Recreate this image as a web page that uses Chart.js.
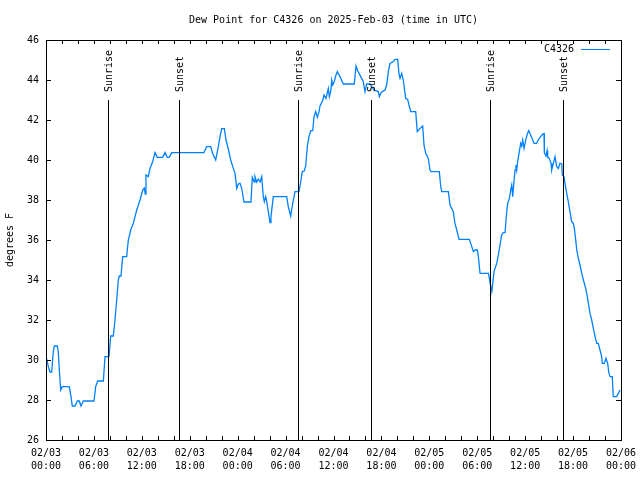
<!DOCTYPE html>
<html>
<head>
<meta charset="utf-8">
<script src="https://cdn.jsdelivr.net/npm/chart.js@4/dist/chart.umd.min.js"></script>
<style>
  html, body { margin: 0; padding: 0; background: #fff; }
  #wrap { width: 640px; height: 480px; }
</style>
</head>
<body>
<div id="wrap"><canvas id="dewChart"></canvas></div>
<script>
// hours since 02/03 00:00 UTC
const hours = [
  0.0, 0.29, 0.5, 0.71, 0.91, 1.04, 1.41, 1.54, 1.75, 1.84, 2.04, 2.92, 3.13, 3.29, 3.63, 3.92,
  4.17, 4.38, 4.67, 6.01, 6.22, 6.47, 7.18, 7.39, 7.89, 8.10, 8.43, 8.64, 8.85, 9.05, 9.18, 9.39,
  9.60, 10.1, 10.31, 10.61, 10.93, 11.36, 11.77, 12.11, 12.31, 12.43, 12.52, 12.81, 13.02, 13.36,
  13.65, 13.94, 14.61, 14.90, 15.19, 15.44, 15.74, 19.78, 20.12, 20.62, 20.87, 21.25, 21.50, 21.79,
  22.00, 22.33, 22.54, 22.83, 23.13, 23.38, 23.67, 23.88, 24.08, 24.29, 24.51, 24.79, 25.67, 25.83,
  26.08, 26.17, 26.38, 26.58, 26.80, 27.01, 27.21, 27.34, 27.51, 27.64, 27.84, 28.05, 28.17, 28.39,
  28.46, 30.14, 30.34, 30.64, 30.89, 31.18, 31.68, 31.89, 32.09, 32.34, 32.52, 32.72, 32.93, 33.15,
  33.40, 33.56, 33.77, 33.97, 34.19, 34.31, 34.65, 34.81, 35.06, 35.35, 35.48, 35.65, 35.78, 35.90,
  36.06, 36.31, 36.48, 36.81, 37.23, 38.60, 38.82, 38.98, 39.41, 39.73, 39.94, 40.16, 40.57, 40.78,
  41.07, 41.61, 41.74, 41.91, 42.11, 42.45, 42.66, 42.86, 43.08, 43.49, 43.70, 44.04, 44.20, 44.33,
  44.54, 44.74, 44.87, 45.04, 45.29, 45.45, 45.67, 46.29, 46.49, 46.83, 47.17, 47.33, 47.55, 47.87,
  48.08, 48.21, 49.25, 49.42, 49.55, 50.38, 50.59, 51.00, 51.21, 51.43, 51.72, 53.01, 53.31, 53.51,
  53.72, 54.01, 54.14, 54.35, 55.39, 55.52, 55.69, 55.82, 55.94, 56.10, 56.44, 56.64, 56.85, 57.06,
  57.26, 57.48, 57.69, 57.81, 58.02, 58.19, 58.32, 58.44, 58.60, 58.73, 58.85, 58.94, 59.06, 59.23,
  59.44, 59.57, 59.69, 59.86, 60.07, 60.27, 60.44, 60.61, 60.82, 61.11, 61.44, 61.64, 61.86, 62.20,
  62.36, 62.40, 62.61, 62.74, 62.82, 63.02, 63.24, 63.32, 63.53, 63.74, 63.95, 64.16, 64.36, 64.58,
  64.65, 64.86, 64.99, 65.20, 65.40, 65.61, 65.82, 66.03, 66.16, 66.33, 66.46, 66.66, 66.87, 67.08,
  67.29, 67.58, 67.71, 67.92, 68.12, 68.33, 68.54, 68.75, 68.96, 69.16, 69.37, 69.58, 69.66, 69.91,
  70.12, 70.33, 70.49, 70.62, 70.91, 71.03, 71.46, 71.66, 71.88
];

const dewPoint = [
  30.2, 29.67, 29.4, 29.4, 30.4, 30.7, 30.7, 30.4, 29.0, 28.5, 28.67, 28.67, 28.17, 27.7, 27.7, 27.95,
  27.95, 27.7, 27.95, 27.95, 28.67, 28.95, 28.95, 30.17, 30.17, 31.2, 31.2, 32.0, 33.0, 34.0, 34.2, 34.2,
  35.17, 35.17, 36.0, 36.5, 36.83, 37.5, 38.0, 38.5, 38.6, 38.3, 39.25, 39.17, 39.58, 39.92,
  40.37, 40.13, 40.13, 40.37, 40.13, 40.13, 40.37, 40.37, 40.67, 40.67, 40.33, 40.0, 40.5, 41.17,
  41.57, 41.57, 41.0, 40.55, 40.0, 39.67, 39.33, 38.58, 38.8, 38.83, 38.58, 37.9, 37.9, 39.13,
  38.9, 39.17, 38.9, 39.05, 38.9, 39.17, 38.17, 37.92, 38.17, 37.92, 37.42, 36.87, 37.17, 37.92,
  38.17, 38.17, 37.67, 37.2, 37.83, 38.42, 38.42, 38.9, 39.42, 39.45, 39.7, 40.67, 41.17, 41.47,
  41.47, 42.17, 42.42, 42.13, 42.42, 42.7, 42.97, 43.25, 43.08, 43.58, 43.17, 43.42, 44.0, 43.75,
  43.87, 44.25, 44.42, 44.17, 43.8, 43.8, 44.7, 44.5, 44.17, 43.92, 43.42, 43.8, 43.8, 43.67,
  43.5, 43.42, 43.17, 43.33, 43.42, 43.5, 43.75, 44.42, 44.83, 44.92, 45.03, 45.03, 44.3, 44.08,
  44.33, 44.0, 43.58, 43.08, 43.03, 42.75, 42.42, 42.42, 41.42, 41.58, 41.7, 40.75, 40.33, 40.08,
  39.5, 39.42, 39.42, 38.7, 38.42, 38.42, 37.75, 37.42, 36.83, 36.5, 36.03, 36.03, 35.67, 35.42,
  35.5, 35.5, 35.17, 34.33, 34.33, 34.08, 33.67, 33.42, 33.83, 34.42, 34.83, 35.25, 35.75, 36.25,
  36.37, 36.37, 37.42, 37.83, 38.08, 38.5, 38.75, 38.17, 38.92, 39.5, 39.75, 39.5, 39.92, 40.33,
  40.83, 40.7, 41.0, 40.58, 41.0, 41.3, 41.47, 41.33, 41.13, 40.83, 40.83, 41.0, 41.13, 41.3,
  41.33, 40.37, 40.2, 40.47, 40.13, 40.08, 39.83, 39.5, 39.83, 40.17, 39.67, 39.58, 39.83, 39.8,
  39.25, 39.17, 38.83, 38.33, 37.92, 37.42, 36.92, 36.83, 36.58, 36.0, 35.5, 35.08, 34.75, 34.33,
  34.0, 33.58, 33.33, 32.83, 32.33, 32.0, 31.58, 31.17, 30.83, 30.83, 30.5, 30.17, 29.83, 29.83,
  30.08, 29.83, 29.33, 29.17, 29.17, 28.17, 28.17, 28.33, 28.5
];

const xTickLabels = [
  ["02/03", "00:00"], ["02/03", "06:00"], ["02/03", "12:00"], ["02/03", "18:00"],
  ["02/04", "00:00"], ["02/04", "06:00"], ["02/04", "12:00"], ["02/04", "18:00"],
  ["02/05", "00:00"], ["02/05", "06:00"], ["02/05", "12:00"], ["02/05", "18:00"],
  ["02/06", "00:00"]
];

const sunEvents = [7.72, 16.69, 31.6, 40.7, 55.6, 64.75];
const sunLabels = ["Sunrise", "Sunset", "Sunrise", "Sunset", "Sunrise", "Sunset"];

const FONT = "'DejaVu Sans Mono', monospace";
const LINE_COLOR = "#0080ff";

const points = hours.map((h, i) => ({ x: h, y: dewPoint[i] }));

// frame, inward ticks, sunrise/sunset markers and the legend
const decorations = {
  id: "decorations",
  afterDatasetsDraw(chart) {
    const { ctx, chartArea: a, scales: { x, y } } = chart;
    ctx.save();
    ctx.strokeStyle = "#000";
    ctx.lineWidth = 1;

    ctx.beginPath();
    for (let h = 0; h <= 72; h += 2) {
      const px = Math.round(x.getPixelForValue(h)) + 0.5;
      ctx.moveTo(px, a.bottom); ctx.lineTo(px, a.bottom - 4);
      ctx.moveTo(px, a.top); ctx.lineTo(px, a.top + 4);
    }
    for (let v = 26; v <= 46; v += 2) {
      const py = Math.round(y.getPixelForValue(v)) + 0.5;
      ctx.moveTo(a.left, py); ctx.lineTo(a.left + 5, py);
      ctx.moveTo(a.right, py); ctx.lineTo(a.right - 5, py);
    }
    ctx.stroke();

    ctx.strokeRect(Math.round(a.left) + 0.5, Math.round(a.top) + 0.5,
      Math.round(a.right - a.left), Math.round(a.bottom - a.top));

    ctx.font = "10px " + FONT;
    ctx.fillStyle = "#000";
    sunEvents.forEach((h, i) => {
      const px = Math.round(x.getPixelForValue(h)) + 0.5;
      ctx.beginPath();
      ctx.moveTo(px, y.getPixelForValue(43));
      ctx.lineTo(px, a.bottom);
      ctx.stroke();
      ctx.save();
      ctx.translate(px + 1, y.getPixelForValue(43) - 8);
      ctx.rotate(-Math.PI / 2);
      ctx.textAlign = "left";
      ctx.textBaseline = "middle";
      ctx.fillText(sunLabels[i], 0, 0);
      ctx.restore();
    });

    ctx.textAlign = "right";
    ctx.textBaseline = "middle";
    ctx.fillText(chart.data.datasets[0].label, 574, 49);
    ctx.strokeStyle = LINE_COLOR;
    ctx.beginPath();
    ctx.moveTo(581, 49.5);
    ctx.lineTo(610, 49.5);
    ctx.stroke();
    ctx.restore();
  }
};

new Chart(document.getElementById("dewChart"), {
  type: "line",
  data: {
    datasets: [{
      label: "C4326",
      data: points,
      borderColor: LINE_COLOR,
      borderWidth: 1.3,
      pointRadius: 0,
      tension: 0,
      fill: false
    }]
  },
  options: {
    responsive: true,
    maintainAspectRatio: false,
    animation: false,
    layout: { padding: { left: 0, right: 19, top: 0, bottom: 0 } },
    plugins: {
      legend: { display: false },
      tooltip: { enabled: false },
      title: {
        display: true,
        fullSize: false,
        text: "Dew Point for C4326 on 2025-Feb-03 (time in UTC)",
        color: "#000",
        font: { family: FONT, size: 10, weight: "normal" },
        padding: { top: 14, bottom: 14 }
      }
    },
    scales: {
      x: {
        type: "linear",
        min: 0,
        max: 72,
        grid: { display: false, drawTicks: false },
        border: { display: false },
        afterFit: (scale) => {
          scale.height = 40;
          scale.paddingRight = 0;
          scale.paddingLeft = 0;
        },
        afterBuildTicks: (scale) => {
          scale.ticks = xTickLabels.map((_, i) => ({ value: i * 6 }));
        },
        ticks: {
          color: "#000",
          autoSkip: false,
          maxRotation: 0,
          padding: 7,
          font: { family: FONT, size: 10, lineHeight: 1.3 },
          callback: (v) => xTickLabels[Math.round(v / 6)]
        }
      },
      y: {
        min: 26,
        max: 46,
        grid: { display: false, drawTicks: false },
        border: { display: false },
        afterFit: (scale) => { scale.width = 46; },
        ticks: {
          stepSize: 2,
          color: "#000",
          padding: 7,
          font: { family: FONT, size: 10 }
        },
        title: {
          display: true,
          text: "degrees F",
          color: "#000",
          font: { family: FONT, size: 10 },
          padding: { top: 4, bottom: 0 }
        }
      }
    }
  },
  plugins: [decorations]
});
</script>
</body>
</html>
